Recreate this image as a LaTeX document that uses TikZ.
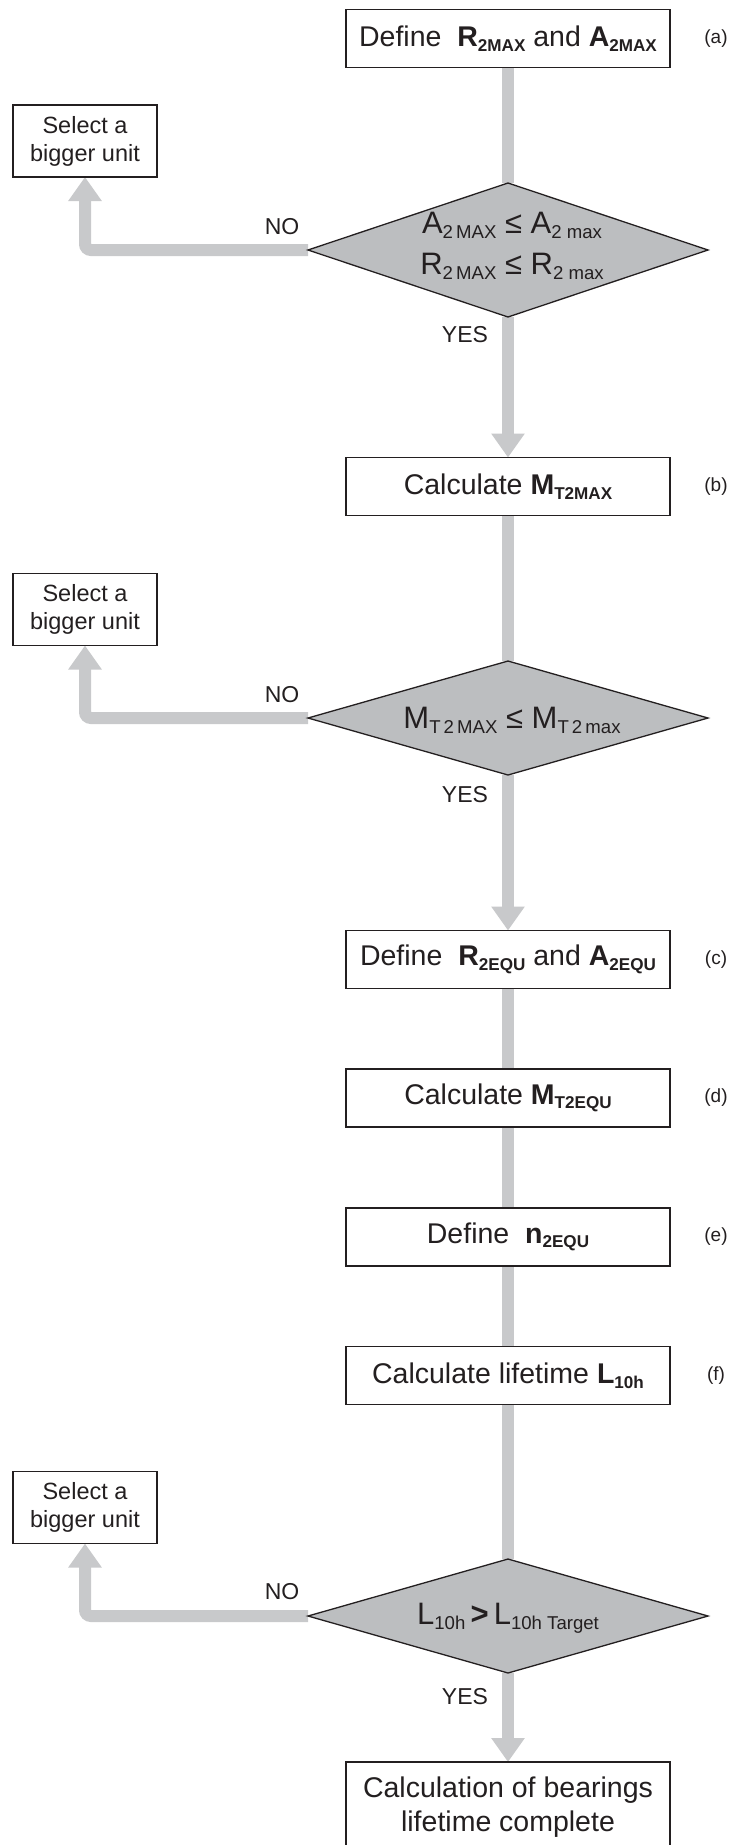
\documentclass[tikz,border=0pt]{standalone}
\usepackage{fontspec}
\setmainfont{Liberation Sans}
\usetikzlibrary{shapes.geometric,arrows.meta,backgrounds}
\definecolor{flowline}{RGB}{200,201,203}
\definecolor{decfill}{RGB}{188,190,192}
\definecolor{ink}{RGB}{35,31,32}
\newcommand\lowsub[1]{\raisebox{-0.16em}{\scalebox{0.6}{#1}}}
\begin{document}
\begin{tikzpicture}[x=1pt,y=-1pt,
  stepbox/.style={draw=ink, line width=1.3pt, fill=white, minimum width=324pt, minimum height=58pt, inner sep=0pt, outer sep=0pt, text=ink, font=\fontsize{28.5}{34}\selectfont, align=center},
  altbox/.style={draw=ink, line width=1.3pt, fill=white, minimum width=144pt, minimum height=72pt, inner sep=0pt, outer sep=0pt, text=ink, font=\fontsize{23.5}{28}\selectfont, align=center},
  decision/.style={diamond, draw=ink, line width=1.3pt, fill=decfill, minimum width=400pt, inner sep=0pt, outer sep=0pt},
  dectext/.style={text=ink, font=\fontsize{31}{41}\selectfont, align=center, inner sep=0pt},
  flow/.style={draw=flowline, line width=12pt},
  flowarrow/.style={flow, -{Triangle[width=32pt,length=24pt]}},
  answer/.style={text=ink, font=\fontsize{23}{28}\selectfont, inner sep=0pt},
  tag/.style={text=ink, font=\fontsize{19}{23}\selectfont, inner sep=0pt},
]
\useasboundingbox (0,0) rectangle (734,1845);

% main chain
\node[stepbox] (a) at (508,38.5) {Define\ \ \textbf{R}\lowsub{\textbf{2MAX}} and \textbf{A}\lowsub{\textbf{2MAX}}};
\node[decision, minimum height=134pt] (d1) at (508,250) {};
\node[dectext] (d1t) at (512,246) {A\lowsub{2\,MAX} ≤ A\lowsub{2 max}\\R\lowsub{2\,MAX} ≤ R\lowsub{2 max}};
\node[stepbox] (b) at (508,486.5) {Calculate \textbf{M}\lowsub{\textbf{T2MAX}}};
\node[decision, minimum height=114pt] (d2) at (508,718) {};
\node[dectext] (d2t) at (512,720) {M\lowsub{T\,2\,MAX} ≤ M\lowsub{T\,2\,max}};
\node[stepbox] (c) at (508,959.5) {Define\ \ \textbf{R}\lowsub{\textbf{2EQU}} and \textbf{A}\lowsub{\textbf{2EQU}}};
\node[stepbox] (d) at (508,1098) {Calculate \textbf{M}\lowsub{\textbf{T2EQU}}};
\node[stepbox] (e) at (508,1237) {Define\ \ \textbf{n}\lowsub{\textbf{2EQU}}};
\node[stepbox] (f) at (508,1375.5) {Calculate lifetime \textbf{L}\lowsub{\textbf{10h}}};
\node[decision, minimum height=114pt] (d3) at (508,1616) {};
\node[dectext] (d3t) at (508,1618) {L\lowsub{10h}\,\textbf{>}\,L\lowsub{10h Target}};
\node[stepbox, minimum height=90pt] (g) at (508,1807) {Calculation of bearings\\lifetime complete};

% side boxes
\node[altbox] (s1) at (85,141) {Select a\\bigger unit};
\node[altbox] (s2) at (85,609.5) {Select a\\bigger unit};
\node[altbox] (s3) at (85,1507.5) {Select a\\bigger unit};

% step tags
\node[tag] (ta) at (716,38.5) {(a)};
\node[tag] (tb) at (716,486.5) {(b)};
\node[tag] (tc) at (716,959.5) {(c)};
\node[tag] (td) at (716,1098) {(d)};
\node[tag] (te) at (716,1237) {(e)};
\node[tag] (tf) at (716,1375.5) {(f)};

% answers
\node[answer] (no1) at (282,227) {NO};
\node[answer] (yes1) at (465,335) {YES};
\node[answer] (no2) at (282,695) {NO};
\node[answer] (yes2) at (465,795) {YES};
\node[answer] (no3) at (282,1592) {NO};
\node[answer] (yes3) at (465,1697) {YES};

\begin{pgfonlayer}{background}
\fill[white] (0,0) rectangle (734,1845);
\draw[flow] (a.south) -- (d1.north);
\draw[flowarrow] (d1.south) -- (b.north);
\draw[flowarrow, rounded corners=6pt] (d1.west) -| (s1.south);
\draw[flow] (b.south) -- (d2.north);
\draw[flowarrow] (d2.south) -- (c.north);
\draw[flowarrow, rounded corners=6pt] (d2.west) -| (s2.south);
\draw[flow] (c.south) -- (d.north);
\draw[flow] (d.south) -- (e.north);
\draw[flow] (e.south) -- (f.north);
\draw[flow] (f.south) -- (d3.north);
\draw[flowarrow] (d3.south) -- (g.north);
\draw[flowarrow, rounded corners=6pt] (d3.west) -| (s3.south);
\end{pgfonlayer}
\end{tikzpicture}
\end{document}
